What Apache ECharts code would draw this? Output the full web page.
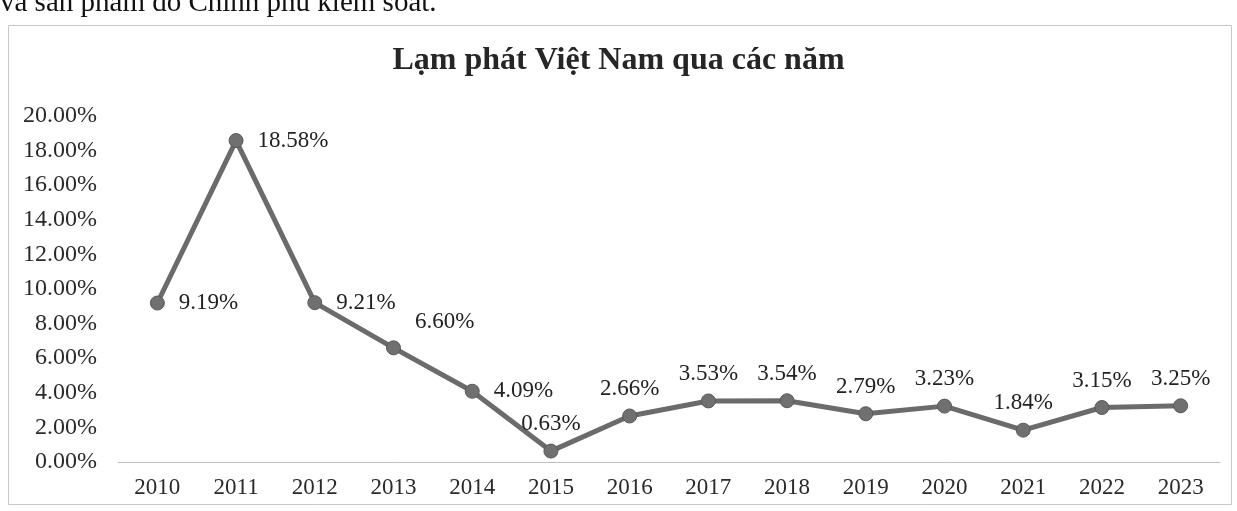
<!DOCTYPE html>
<html><head><meta charset="utf-8">
<script src="https://cdn.jsdelivr.net/npm/echarts@6/dist/echarts.min.js"></script>
<style>html,body{margin:0;padding:0;background:#fff}#c{width:1237px;height:511px}</style>
</head><body><div id="c"></div>
<script>
const years = ['2010','2011','2012','2013','2014','2015','2016','2017','2018','2019','2020','2021','2022','2023'];
const inflation = [9.19, 18.58, 9.21, 6.60, 4.09, 0.63, 2.66, 3.53, 3.54, 2.79, 3.23, 1.84, 3.15, 3.25];
const titleText = 'Lạm phát Việt Nam qua các năm';
const docText = 'và sản phẩm do Chính phủ kiểm soát.';

const serif = '"Liberation Serif", "DejaVu Serif", serif';
const chart = echarts.init(document.getElementById('c'));
const seriesData = inflation.map((v, i) => {
  let label;
  if (i <= 4) label = { position: 'right', distance: 14, offset: i === 3 ? [0, -26] : [0, 0] };
  else label = { position: 'top', distance: 8 };
  return { value: v, label };
});
chart.setOption({
  animation: false,
  backgroundColor: '#fff',
  title: { text: titleText, left: 'center', top: 40, textStyle: { fontFamily: serif, fontSize: 32, fontWeight: 'bold', color: '#262626' } },
  graphic: [
    { type: 'rect', shape: { x: 8.5, y: 25.5, width: 1223, height: 479 }, style: { fill: 'none', stroke: '#c8c8c8', lineWidth: 1 } },
    { type: 'text', left: 0, top: -11, style: { text: docText, font: '29px ' + serif, fill: '#111' } }
  ],
  grid: { left: 118, right: 17, top: 116, bottom: 49 },
  xAxis: {
    type: 'category', data: years, boundaryGap: true,
    axisLine: { lineStyle: { color: '#bfbfbf', width: 1 } },
    axisTick: { show: false },
    axisLabel: { fontFamily: serif, fontSize: 23, color: '#2a2a2a', margin: 14 }
  },
  yAxis: {
    type: 'value', min: 0, max: 20, interval: 2,
    splitLine: { show: false },
    axisLine: { show: false }, axisTick: { show: false },
    axisLabel: { fontFamily: serif, fontSize: 24, color: '#2a2a2a', margin: 21, formatter: v => v.toFixed(2) + '%' }
  },
  series: [{
    type: 'line', data: seriesData,
    symbol: 'circle', symbolSize: 14,
    lineStyle: { color: '#6b6b6b', width: 5 },
    itemStyle: { color: '#707070', borderColor: '#5a5a5a', borderWidth: 1 },
    label: { show: true, fontFamily: serif, fontSize: 23, color: '#222', formatter: p => p.value.toFixed(2) + '%' }
  }]
});
</script></body></html>
